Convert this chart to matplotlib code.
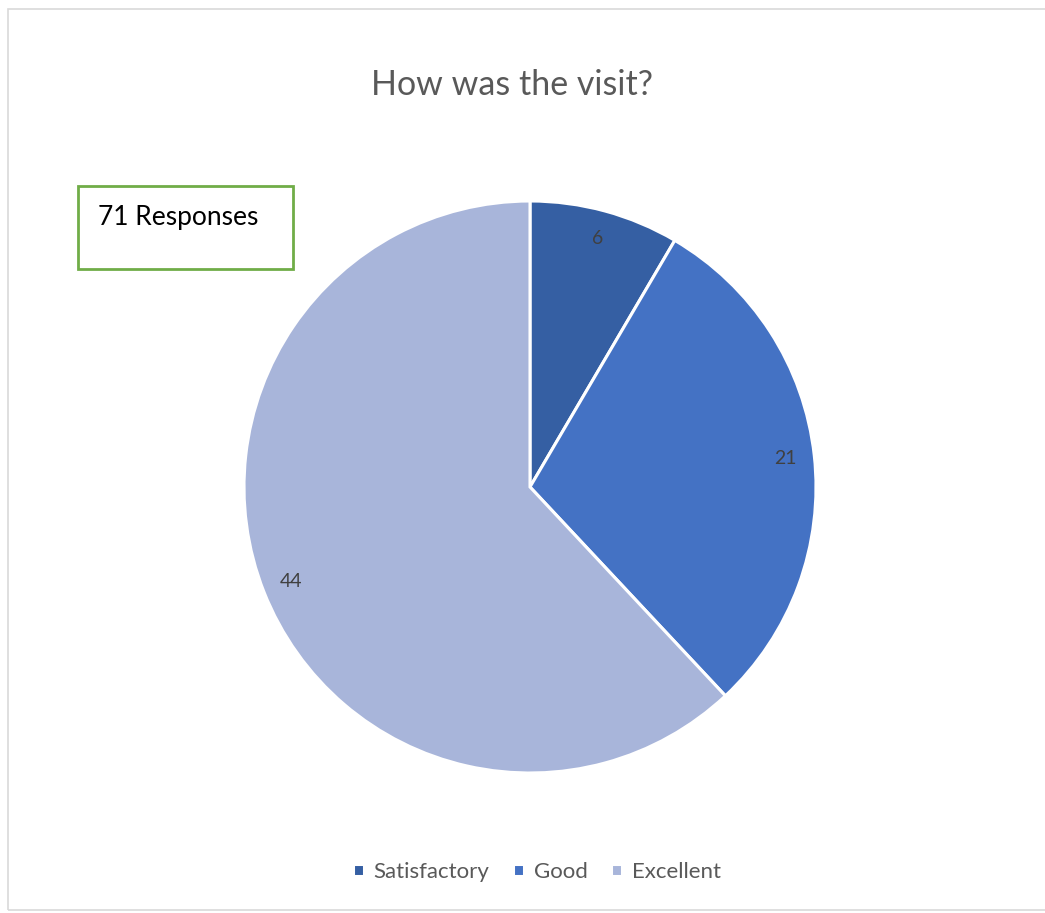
import matplotlib.pyplot as plt
from matplotlib.patches import Rectangle

categories = ['Satisfactory', 'Good', 'Excellent']
counts = [6, 21, 44]
colors = ['#355FA3', '#4472C4', '#A8B5DA']

W, H = 1045, 913
plt.rcParams['font.family'] = ['Lato', 'DejaVu Sans']

fig = plt.figure(figsize=(W / 100, H / 100), dpi=100)

# outer chart border
fig.patches.append(Rectangle((8 / W, 1 - 910 / H), 1, (910 - 9) / H, transform=fig.transFigure,
                             fill=False, edgecolor='#D9D9D9', linewidth=1.2))

# pie axes: centre (530, 487), radius 286 px
cx, cy, r = 530, 487, 286
ax = fig.add_axes([(cx - r) / W, 1 - (cy + r) / H, 2 * r / W, 2 * r / H])
wedges, texts = ax.pie(counts, labels=[str(c) for c in counts], colors=colors,
                       startangle=90, counterclock=False, labeldistance=0.9,
                       wedgeprops=dict(edgecolor='white', linewidth=2.2),
                       textprops=dict(color='#404040', fontsize=14))
for t in texts:
    t.set_ha('center')
    t.set_va('center')
ax.set_xlim(-1, 1)
ax.set_ylim(-1, 1)
ax.set_aspect('equal')
ax.axis('off')

fig.text(512 / W, 1 - 85 / H, 'How was the visit?', ha='center', va='center',
         fontsize=24.5, color='#595959')

# responses box
fig.patches.append(Rectangle((78 / W, 1 - 269 / H), (293 - 78) / W, (269 - 186) / H,
                             transform=fig.transFigure, fill=False,
                             edgecolor='#70AD47', linewidth=2))
fig.text(98 / W, 1 - 217 / H, '71 Responses', ha='left', va='center',
         fontsize=19, color='black')

leg = fig.legend(wedges, categories, loc='center', bbox_to_anchor=(537 / W, 1 - 872 / H),
                 ncol=3, frameon=False, fontsize=16, handlelength=0.5, handleheight=0.5,
                 handletextpad=0.45, columnspacing=1.05)
for t in leg.get_texts():
    t.set_color('#595959')

fig.savefig('out.png', dpi=100)
